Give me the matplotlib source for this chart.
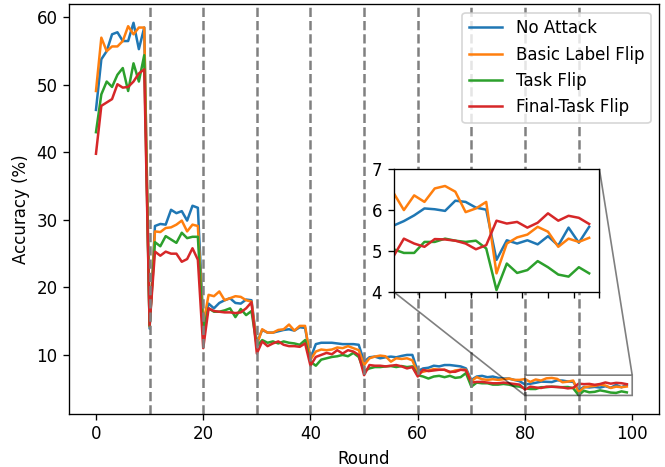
import matplotlib.pyplot as plt
import numpy as np

rounds = np.arange(100)

no_attack = [
    46.3, 53.8, 55.0, 57.5, 57.8, 56.5, 56.5, 59.2, 55.3, 58.5,
    13.9, 29.1, 29.4, 29.3, 31.5, 31.0, 31.3, 29.9, 32.1, 31.8,
    15.0, 17.6, 16.9, 17.7, 18.1, 18.4, 17.7, 17.6, 18.2, 18.1,
    11.8, 13.7, 13.3, 13.3, 13.5, 13.7, 13.8, 13.6, 14.1, 14.0,
    9.5, 11.6, 11.8, 11.8, 11.8, 11.7, 11.6, 11.6, 11.6, 11.5,
    9.0, 9.65, 9.75, 9.5, 9.65, 9.75, 9.65, 9.85, 10.0, 10.0,
    7.6, 8.0, 8.1, 8.4, 8.3, 8.5, 8.5, 8.4, 8.3, 8.0,
    6.3, 6.8, 6.9, 6.7, 6.8, 6.6, 6.5, 6.5, 6.3, 6.1,
    5.62, 5.73, 5.87, 6.04, 6.02, 5.98, 6.23, 6.20, 6.06, 6.01,
    4.78, 5.26, 5.18, 5.26, 5.16, 5.36, 5.13, 5.57, 5.20, 5.59,
]

basic_flip = [
    49.1, 57.0, 55.0, 55.7, 55.7, 56.5, 58.7, 57.5, 58.5, 58.5,
    14.2, 28.3, 28.2, 28.8, 28.9, 29.3, 29.9, 28.3, 29.3, 29.1,
    14.5, 18.9, 18.7, 19.4, 18.1, 18.4, 18.7, 18.6, 18.1, 17.9,
    11.5, 13.8, 13.3, 13.3, 13.7, 13.8, 14.5, 13.6, 14.3, 14.3,
    9.3, 10.5, 10.8, 10.7, 10.8, 11.1, 11.0, 11.3, 11.0, 10.7,
    8.5, 9.5, 9.75, 9.9, 9.8, 9.0, 9.5, 9.4, 9.5, 9.2,
    7.3, 7.5, 7.7, 7.9, 7.8, 7.8, 7.4, 7.7, 7.8, 7.8,
    6.1, 6.7, 6.4, 6.3, 6.4, 6.3, 6.4, 6.5, 6.3, 6.3,
    6.42, 6.00, 6.36, 6.20, 6.53, 6.59, 6.45, 5.95, 6.04, 6.20,
    4.45, 5.18, 5.33, 5.40, 5.59, 5.47, 5.10, 5.30, 5.22, 5.32,
]

task_flip = [
    43.0, 48.6, 50.5, 49.7, 51.5, 52.5, 49.1, 53.2, 50.5, 54.4,
    14.3, 26.7, 26.1, 27.6, 27.1, 26.6, 28.1, 27.3, 27.5, 27.5,
    13.5, 16.9, 16.4, 16.4, 16.6, 16.9, 15.6, 16.8, 15.9, 16.5,
    11.3, 12.2, 11.8, 12.0, 11.7, 12.0, 11.8, 11.7, 11.5, 12.2,
    9.0, 8.4, 9.3, 9.5, 9.7, 9.8, 10.0, 9.8, 10.3, 9.7,
    7.6, 8.0, 8.2, 8.2, 8.3, 8.35, 8.2, 8.35, 8.2, 8.3,
    7.0, 6.8, 6.5, 6.8, 6.9, 6.7, 6.9, 6.6, 6.7, 7.3,
    5.3, 5.9, 5.8, 5.8, 5.6, 5.6, 5.7, 5.6, 5.4, 5.3,
    5.04, 4.95, 4.95, 5.22, 5.22, 5.30, 5.25, 5.22, 5.25, 5.06,
    4.04, 4.69, 4.46, 4.53, 4.75, 4.60, 4.42, 4.37, 4.60, 4.45,
]

final_task_flip = [
    39.8, 46.9, 47.4, 47.9, 50.1, 49.6, 49.7, 50.5, 51.7, 52.3,
    14.4, 25.3, 24.7, 25.3, 25.0, 25.0, 23.8, 24.2, 25.8, 24.1,
    11.0, 16.9, 16.5, 16.4, 16.3, 16.3, 16.2, 16.3, 16.9, 17.8,
    10.2, 12.0, 11.3, 11.7, 12.0, 11.5, 11.3, 11.3, 11.2, 11.7,
    8.4, 9.7, 10.0, 10.3, 10.1, 10.7, 10.2, 10.7, 10.5, 10.0,
    7.0, 8.5, 8.4, 8.4, 8.3, 8.4, 8.5, 8.3, 8.0, 8.2,
    6.8, 7.8, 7.6, 7.7, 7.8, 7.8, 7.5, 7.5, 7.8, 7.7,
    5.9, 6.0, 6.0, 5.9, 5.8, 5.8, 5.9, 5.8, 5.7, 5.6,
    4.87, 5.30, 5.18, 5.10, 5.29, 5.28, 5.25, 5.18, 5.04, 5.14,
    5.74, 5.67, 5.71, 5.57, 5.69, 5.92, 5.74, 5.86, 5.81, 5.66,
]

labels = ["No Attack", "Basic Label Flip", "Task Flip", "Final-Task Flip"]
series = [no_attack, basic_flip, task_flip, final_task_flip]
task_bounds = [10, 20, 30, 40, 50, 60, 70, 80, 90]

fig, ax = plt.subplots(figsize=(665 / 120, 467 / 120), dpi=120)
fig.subplots_adjust(left=0.104, right=0.991, bottom=0.114, top=0.991)

for vals, lab in zip(series, labels):
    ax.plot(rounds, vals, label=lab)

for b in task_bounds:
    ax.axvline(b, color="gray", linestyle="--", linewidth=1.5)

ax.set_xlim(-5, 105)
ax.set_xlabel("Round")
ax.set_ylabel("Accuracy (%)")
ax.legend(loc="upper right")

# zoomed view of the last rounds
axins = ax.inset_axes([0.55, 0.298, 0.349, 0.299])
for vals in series:
    axins.plot(rounds, vals)
axins.set_xlim(80, 100)
axins.set_ylim(4, 7)
axins.set_xticks(np.arange(80, 100.1, 2.5))
axins.set_xticklabels([])
axins.set_yticks([4, 5, 6, 7])
ind = ax.indicate_inset_zoom(axins, edgecolor="black")
conns = ind.connectors
for i, c in enumerate(conns):
    c.set_visible(i in (0, 3))

fig.savefig("out.png", dpi=120)
